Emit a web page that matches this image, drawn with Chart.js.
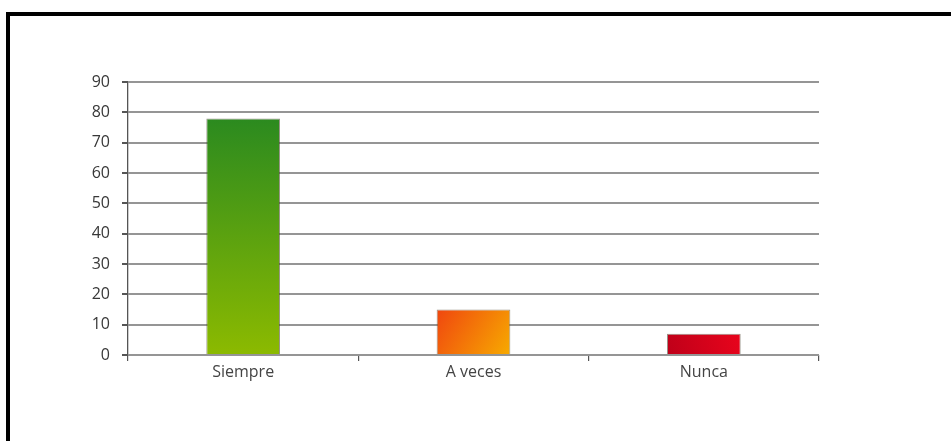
<!DOCTYPE html>
<html>
<head>
<meta charset="utf-8">
<script src="https://cdn.jsdelivr.net/npm/chart.js@4/dist/chart.umd.min.js"></script>
<style>
  html, body { margin: 0; padding: 0; background: #fff; }
  #marco {
    position: absolute; left: 6px; top: 12px; width: 960px; height: 440px;
    border-left: 4px solid #000; border-top: 4px solid #000;
  }
  #wrap { position: absolute; left: 0; top: 0; width: 951px; height: 441px; }
</style>
</head>
<body>
<div id="marco"></div>
<div id="wrap"><canvas id="grafica"></canvas></div>
<script>
// Datos de la gráfica
const categorias = ['Siempre', 'A veces', 'Nunca'];
const valores = [78, 15, 7];
const ticksY = [0, 10, 20, 30, 40, 50, 60, 70, 80, 90];

// Colores de degradado por barra: [inicio, fin]
const degradados = [
    ['#2b8a1f', '#8cba00'],
    ['#f0470f', '#f7aa00'],
    ['#bf0019', '#e8041c'],
];

function colorBarra(ctx) {
    const chart = ctx.chart;
    const i = ctx.dataIndex;
    const x = chart.scales.x, y = chart.scales.y;
    if (!chart.chartArea || !x || !y || i === undefined) return degradados[0][0];
    const cx = x.getPixelForValue(i);
    const top = y.getPixelForValue(valores[i]);
    const base = y.getPixelForValue(0);
    const c = chart.ctx;
    let g;
    if (i === 1) g = c.createLinearGradient(cx - 36, top, cx + 36, base);
    else if (i === 2) g = c.createLinearGradient(cx - 36, base, cx + 36, top);
    else g = c.createLinearGradient(cx, top, cx, base);
    g.addColorStop(0, degradados[i][0]);
    g.addColorStop(1, degradados[i][1]);
    return g;
}

new Chart(document.getElementById('grafica'), {
    type: 'bar',
    data: {
        labels: categorias,
        datasets: [{
            data: valores,
            backgroundColor: colorBarra,
            borderColor: 'rgba(70,60,40,0.55)',
            borderWidth: 1,
            categoryPercentage: 1,
            barPercentage: 0.32,
        }]
    },
    options: {
        responsive: true,
        maintainAspectRatio: false,
        animation: false,
        layout: { padding: { left: 0, right: 132, top: 82, bottom: 0 } },
        plugins: { legend: { display: false }, tooltip: { enabled: false } },
        scales: {
            x: {
                afterFit: s => { s.height = 86; },
                grid: { drawOnChartArea: false, tickLength: 6, color: '#555', lineWidth: 1.2 },
                border: { display: false },
                ticks: { color: '#444', padding: 2, font: { family: 'Open Sans', size: 16 } }
            },
            y: {
                min: 0, max: 90,
                afterFit: s => { s.width = 128; },
                afterBuildTicks: s => { s.ticks = ticksY.map(v => ({ value: v })); },
                grid: { color: '#959595', lineWidth: 2, tickLength: 6, tickColor: '#555' },
                border: { display: true, color: '#555', width: 1.3 },
                ticks: { color: '#383838', padding: 12, font: { family: 'Open Sans', size: 16 } }
            }
        }
    }
});
</script>
</body>
</html>
